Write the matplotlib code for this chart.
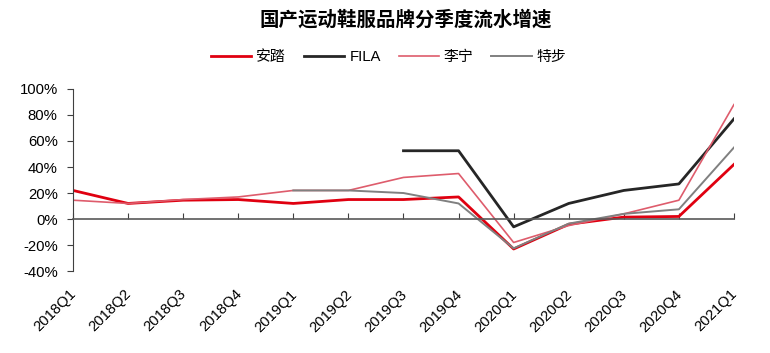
import numpy as np
import matplotlib
matplotlib.use('Agg')
import matplotlib.pyplot as plt

plt.rcParams['font.family'] = ['Liberation Sans', 'Noto Sans CJK SC', 'DejaVu Sans']

quarters = ['2018Q1', '2018Q2', '2018Q3', '2018Q4', '2019Q1', '2019Q2', '2019Q3',
            '2019Q4', '2020Q1', '2020Q2', '2020Q3', '2020Q4', '2021Q1']
nan = np.nan
anta = [22, 12, 14.5, 15, 12, 15, 15, 17, -23, -4, 1.5, 2, 42]
fila = [nan, nan, nan, nan, nan, nan, 52.5, 52.5, -6, 12, 22, 27, 77]
lining = [14.5, 12, 15, 17, 22, 22, 32, 35, -18, -5, 4, 14.5, 88]
xtep = [nan, nan, nan, nan, 22, 22, 20, 12, -22.5, -3.5, 4, 7.5, 55]

yticks = [-40, -20, 0, 20, 40, 60, 80, 100]

fig = plt.figure(figsize=(7.7, 3.53), dpi=100)
ax = fig.add_axes([0.0948, 0.232, 0.8584, 0.516])

x = np.arange(len(quarters))
ax.plot(x, anta, color='#E00010', lw=2.0, label='安踏')
ax.plot(x, fila, color='#262626', lw=2.0, label='FILA')
ax.plot(x, lining, color='#DE5C6C', lw=1.2, label='李宁')
ax.plot(x, xtep, color='#808080', lw=1.4, label='特步')

ax.set_xlim(0, len(quarters) - 1)
ax.set_ylim(-40, 100)
ax.set_yticks(yticks)
ax.set_yticklabels([f'{v}%' for v in yticks])

for s in ['top', 'right']:
    ax.spines[s].set_visible(False)
ax.spines['left'].set_color('#404040')
ax.spines['bottom'].set_position(('data', 0))
ax.spines['bottom'].set_color('#595959')
ax.spines['bottom'].set_linewidth(1.2)

ax.set_xticks(x)
ax.tick_params(axis='x', direction='in', length=4, color='#404040', labelbottom=False)
ax.tick_params(axis='y', direction='out', length=4, pad=7, labelsize=10.7, color='#404040')

for i, q in enumerate(quarters):
    ax.text(i + 0.02, -0.115, q, transform=ax.get_xaxis_transform(), rotation=45,
            rotation_mode='anchor', ha='right', va='center', fontsize=10.7)

fig.text(0.527, 0.943, '国产运动鞋服品牌分季度流水增速', ha='center', va='center',
         fontsize=14, fontweight='bold', family=['Noto Sans CJK SC', 'DejaVu Sans'])

fig.legend(loc='center', bbox_to_anchor=(0.505, 0.838), ncol=4, frameon=False,
           fontsize=10.7, handlelength=2.7, handletextpad=0.35, columnspacing=1.2)

plt.savefig('out.png', dpi=100)
